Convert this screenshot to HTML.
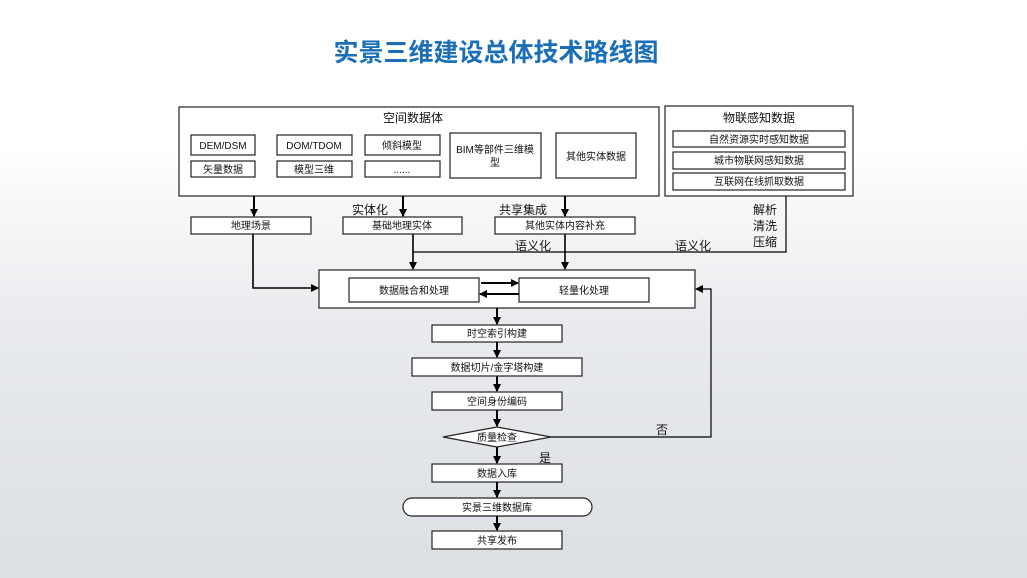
<!DOCTYPE html>
<html><head><meta charset="utf-8"><style>
html,body{margin:0;padding:0;}
body{width:1027px;height:578px;overflow:hidden;background:linear-gradient(#ffffff 0%,#ffffff 25%,#e9ebee 55%,#dcdfe3 100%);}
svg{display:block}
text{font-family:"Liberation Sans","Noto Sans CJK SC",sans-serif;fill:#111;}
</style></head><body>
<svg width="1027" height="578" viewBox="0 0 1027 578">
<defs><marker id="a" markerWidth="8" markerHeight="8" refX="7" refY="4" orient="auto" markerUnits="userSpaceOnUse"><path d="M0,0 L8,4 L0,8 z" fill="#000"/></marker></defs>
<text x="496" y="61" text-anchor="middle" font-size="25" font-weight="bold" style="fill:#1a6fb8">实景三维建设总体技术路线图</text>
<g fill="#fff" stroke="#222" stroke-width="1.2">
<rect x="179" y="107" width="480" height="89"/>
<rect x="191" y="135" width="64" height="20"/><rect x="191" y="161" width="64" height="16"/>
<rect x="277" y="135" width="75" height="20"/><rect x="277" y="161" width="75" height="16"/>
<rect x="365" y="135" width="75" height="20"/><rect x="365" y="161" width="75" height="16"/>
<rect x="450" y="133" width="91" height="45"/><rect x="556" y="133" width="80" height="45"/>
<rect x="665" y="106" width="188" height="90"/>
<rect x="673" y="131" width="172" height="16"/><rect x="673" y="152" width="172" height="17"/><rect x="673" y="173" width="172" height="17"/>
<rect x="191" y="217" width="120" height="17"/><rect x="343" y="217" width="119" height="17"/><rect x="495" y="217" width="140" height="17"/>
<rect x="319" y="270" width="376" height="38"/>
<rect x="349" y="278" width="130" height="24"/><rect x="519" y="278" width="130" height="24"/>
<rect x="432" y="325" width="130" height="17"/><rect x="412" y="358" width="170" height="18"/><rect x="432" y="392" width="130" height="18"/>
<polygon points="443,437 497,427 551,437 497,447"/>
<rect x="432" y="464" width="130" height="18"/>
<rect x="403" y="498" width="189" height="18" rx="9"/>
<rect x="432" y="531" width="130" height="18"/>
</g>
<g stroke="#000" fill="none" stroke-width="1.2">
<path d="M254,196 V216" stroke-width="2" marker-end="url(#a)"/>
<path d="M403,196 V216" stroke-width="2" marker-end="url(#a)"/>
<path d="M565,196 V216" stroke-width="2" marker-end="url(#a)"/>
<path d="M253,234 V288 H318" stroke-width="1.6" marker-end="url(#a)"/>
<path d="M413,234 V269" stroke-width="1.6" marker-end="url(#a)"/>
<path d="M565,234 V269" stroke-width="1.6" marker-end="url(#a)"/>
<path d="M413,252 H786 V196"/>
<path d="M481,283 H518" stroke-width="2" marker-end="url(#a)"/>
<path d="M519,294 H480" stroke-width="2" marker-end="url(#a)"/>
<path d="M551,437 H711 V289 H696" marker-end="url(#a)"/>
<path d="M497,308 V324" stroke-width="2" marker-end="url(#a)"/>
<path d="M497,342 V357" stroke-width="2" marker-end="url(#a)"/>
<path d="M497,376 V391" stroke-width="2" marker-end="url(#a)"/>
<path d="M497,410 V426" stroke-width="2" marker-end="url(#a)"/>
<path d="M497,447 V463" stroke-width="2" marker-end="url(#a)"/>
<path d="M497,482 V497" stroke-width="2" marker-end="url(#a)"/>
<path d="M497,516 V530" stroke-width="2" marker-end="url(#a)"/>
</g>
<g font-size="10" text-anchor="middle">
<text x="413" y="122" font-size="12">空间数据体</text>
<text x="223" y="149">DEM/DSM</text><text x="223" y="173">矢量数据</text>
<text x="314" y="149">DOM/TDOM</text><text x="314" y="173">模型三维</text>
<text x="402" y="149">倾斜模型</text><text x="402" y="173">......</text>
<text x="495" y="153">BIM等部件三维模</text><text x="495" y="166">型</text>
<text x="596" y="160">其他实体数据</text>
<text x="759" y="122" font-size="12">物联感知数据</text>
<text x="759" y="143">自然资源实时感知数据</text>
<text x="759" y="164">城市物联网感知数据</text>
<text x="759" y="185">互联网在线抓取数据</text>
<text x="251" y="229">地理场景</text><text x="402" y="229">基础地理实体</text><text x="565" y="229">其他实体内容补充</text>
<text x="414" y="294">数据融合和处理</text><text x="584" y="294">轻量化处理</text>
<text x="497" y="337">时空索引构建</text><text x="497" y="371">数据切片/金字塔构建</text><text x="497" y="405">空间身份编码</text>
<text x="497" y="441">质量检查</text><text x="497" y="477">数据入库</text><text x="497" y="511">实景三维数据库</text><text x="497" y="544">共享发布</text>
</g>
<g font-size="12" text-anchor="middle">
<text x="370" y="214">实体化</text><text x="523" y="214">共享集成</text>
<text x="533" y="250">语义化</text><text x="693" y="250">语义化</text>
<text x="765" y="214">解析</text><text x="765" y="230">清洗</text><text x="765" y="246">压缩</text>
<text x="662" y="434">否</text><text x="545" y="462">是</text>
</g>
</svg>
</body></html>
